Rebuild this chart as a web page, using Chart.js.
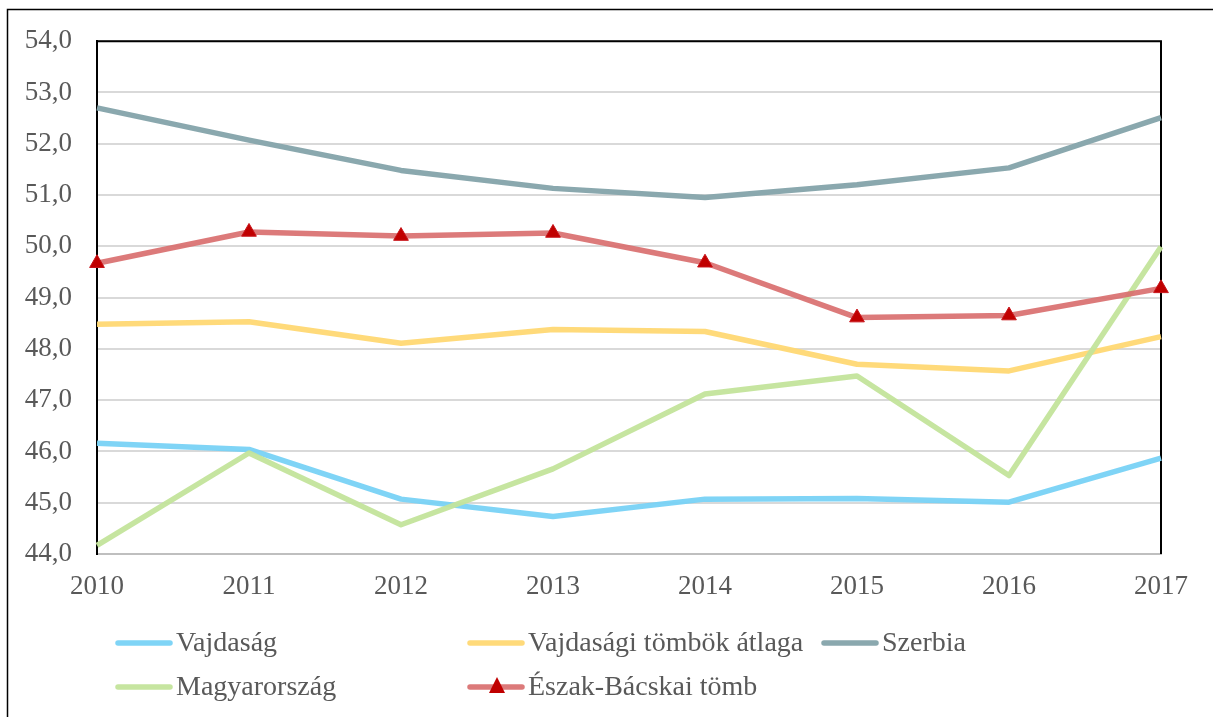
<!DOCTYPE html>
<html>
<head>
<meta charset="utf-8">
<script src="https://cdn.jsdelivr.net/npm/chart.js@4/dist/chart.umd.min.js"></script>
<style>
  body { margin: 0; background: #fff; }
  #wrap { width: 1213px; height: 717px; position: relative; }
</style>
</head>
<body>
<div id="wrap"><canvas id="chart0" width="1213" height="717"></canvas></div>
<script>
// adatok
const years = ['2010', '2011', '2012', '2013', '2014', '2015', '2016', '2017'];
const vajdasag = [46.16, 46.04, 45.07, 44.73, 45.07, 45.08, 45.01, 45.87];
const vajdTombok = [48.48, 48.53, 48.11, 48.38, 48.34, 47.70, 47.57, 48.24];
const szerbia = [52.70, 52.07, 51.48, 51.13, 50.95, 51.20, 51.53, 52.51];
const magyarorszag = [44.17, 45.97, 44.57, 45.66, 47.12, 47.47, 45.53, 49.99];
const eszakBacska = [49.67, 50.28, 50.20, 50.26, 49.68, 48.61, 48.65, 49.18];

const FONT = "'Liberation Serif', 'DejaVu Serif', serif";
const TXT = '#595959';

const frame = {
  id: 'frame',
  beforeDraw(chart) {
    const c = chart.ctx;
    c.save();
    c.fillStyle = '#fff';
    c.fillRect(0, 0, chart.width, chart.height);
    c.strokeStyle = '#000';
    c.lineWidth = 1.5;
    c.strokeRect(7.5, 9.5, chart.width + 20, chart.height + 20);
    c.restore();
  },
  beforeDatasetsDraw(chart) {
    const a = chart.chartArea, c = chart.ctx;
    c.save();
    c.strokeStyle = '#000';
    c.lineWidth = 2;
    c.beginPath();
    c.moveTo(a.left, a.top);
    c.lineTo(a.right, a.top);
    c.lineTo(a.right, a.bottom);
    c.stroke();
    c.restore();
  }
};

// jelmagyarazat kezzel, ket sorban
const legendPos = [[116, 643], [468, 643], [822, 643], [116, 687], [468, 687]];
const sideLegend = {
  id: 'sideLegend',
  afterDraw(chart) {
    const c = chart.ctx;
    c.save();
    c.font = '28px ' + FONT;
    c.textBaseline = 'middle';
    chart.data.datasets.forEach((ds, i) => {
      const [x, y] = legendPos[i];
      c.strokeStyle = ds.borderColor;
      c.lineWidth = 5.5;
      c.lineCap = 'round';
      c.beginPath();
      c.moveTo(x + 2, y);
      c.lineTo(x + 54, y);
      c.stroke();
      if (ds.pointRadius > 0) {
        c.fillStyle = ds.pointBackgroundColor;
        c.beginPath();
        c.moveTo(x + 29, y - 10);
        c.lineTo(x + 37, y + 6);
        c.lineTo(x + 21, y + 6);
        c.closePath();
        c.fill();
      }
      c.fillStyle = TXT;
      c.fillText(ds.label, x + 60, y + 1);
    });
    c.restore();
  }
};

const ctx = document.getElementById('chart0').getContext('2d');
window.myChart = new Chart(ctx, {
  type: 'line',
  data: {
    labels: years,
    datasets: [
      { label: 'Vajdaság', data: vajdasag, borderColor: 'rgba(120,210,245,0.95)', order: 5 },
      { label: 'Vajdasági tömbök átlaga', data: vajdTombok, borderColor: 'rgba(255,216,115,0.95)', order: 4 },
      { label: 'Szerbia', data: szerbia, borderColor: 'rgba(136,166,172,0.98)', order: 3 },
      { label: 'Magyarország', data: magyarorszag, borderColor: 'rgba(195,228,155,0.95)', order: 2 },
      { label: 'Észak-Bácskai tömb', data: eszakBacska, borderColor: 'rgba(216,108,108,0.9)',
        pointRadius: 8.5, pointStyle: 'triangle', pointBackgroundColor: '#c00000',
        pointBorderColor: '#c8141a', pointBorderWidth: 1, clip: false, order: 1 }
    ].map(d => Object.assign({ borderWidth: 5.5, pointRadius: 0, borderJoinStyle: 'round', tension: 0 }, d))
  },
  options: {
    responsive: false,
    animation: false,
    layout: { padding: { left: 20, top: 38, right: 52, bottom: 113 } },
    plugins: { legend: { display: false }, tooltip: { enabled: false } },
    scales: {
      x: {
        offset: false,
        grid: { display: false, drawTicks: false },
        border: { color: '#bfbfbf', width: 2 },
        ticks: { color: TXT, font: { family: FONT, size: 27 }, padding: 17, maxRotation: 0 },
        afterFit(s) { s.height = 50; }
      },
      y: {
        min: 44, max: 54,
        grid: { color: '#d9d9d9', lineWidth: 2, drawTicks: false },
        border: { color: '#000', width: 2 },
        ticks: {
          stepSize: 1, color: TXT, font: { family: FONT, size: 27 }, padding: 25,
          callback: v => v.toFixed(1).replace('.', ',')
        },
        afterFit(s) { s.width = 77; }
      }
    }
  },
  plugins: [frame, sideLegend]
});
</script>
</body>
</html>
